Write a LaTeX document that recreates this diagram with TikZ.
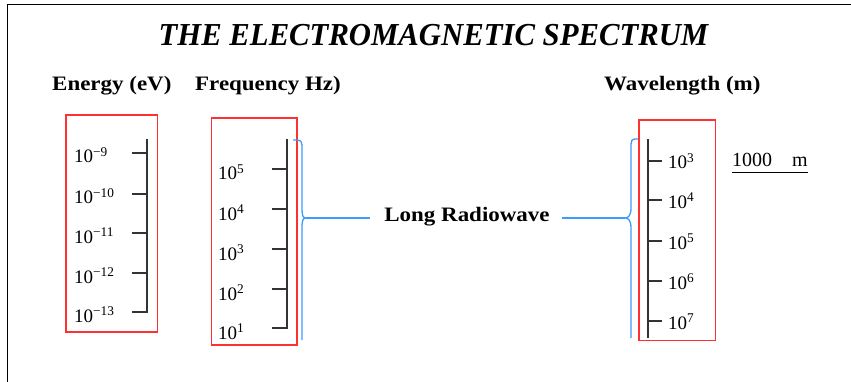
\documentclass[tikz,border=0pt]{standalone}
\usepackage{fontspec}
\setmainfont{Liberation Serif}
\newfontfamily\headfont[FakeStretch=1.12]{Liberation Serif}
\newfontfamily\titlefont[FakeStretch=0.96]{Liberation Serif}
\usepackage{tikz}
\usetikzlibrary{positioning}
\definecolor{boxred}{HTML}{FF3030}
\definecolor{wave}{HTML}{3C9BFF}
\definecolor{axis}{HTML}{333333}
\newcommand{\pts}[1]{\fontsize{#1}{#1}\selectfont}

\begin{document}
\begin{tikzpicture}[x=1pt, y=-1pt, font=\pts{19},
    redbox/.style={draw=boxred, line width=1.3pt},
    scaleline/.style={draw=axis, line width=1.4pt},
    waveline/.style={draw=wave, line width=1.3pt},
    ticklabel/.style={anchor=base west, inner sep=0pt},
    head/.style={anchor=base west, inner sep=0pt, font=\headfont\pts{20.5}\bfseries}]
    \useasboundingbox (0,0) rectangle (851,382);
    \draw[line width=1.5pt] (7.5,382) -- (7.5,4.5) -- (851,4.5);

    \node[font=\titlefont\pts{32}\bfseries\itshape] (title) at (433.5,35) {THE ELECTROMAGNETIC SPECTRUM};
    \node[head] (energy) at (52,91) {Energy (eV)};
    \node[head] (freq) at (195,91) {Frequency Hz)};
    \node[head] (wavelen) at (604,91) {Wavelength (m)};

    % energy scale
    \draw[redbox] (66,115) rectangle (157.5,332);
    \draw[scaleline] (147,139) -- (147,313);
    \foreach \y/\e [count=\i] in {153/9,194/10,233/11,273/12,312/13} {
        \draw[scaleline] (132,\y) -- (147,\y);
        \node[ticklabel] (en\i) at (74,\y+10) {10\textsuperscript{−\e}};
    }

    % frequency scale
    \draw[redbox] (211.5,118) rectangle (297,345);
    \draw[scaleline] (287,139) -- (287,329);
    \foreach \y/\e [count=\i] in {169/5,209/4,249/3,289/2,328/1} {
        \draw[scaleline] (272,\y) -- (287,\y);
        \node[ticklabel] (fr\i) at (218,\y+11) {10\textsuperscript{\e}};
    }

    % wavelength scale
    \draw[redbox] (639,120) rectangle (715.5,340.5);
    \draw[scaleline] (648,139) -- (648,338);
    \foreach \y/\e [count=\i] in {161/3,200/4,241/5,281/6,321/7} {
        \draw[scaleline] (648,\y) -- (662,\y);
        \node[ticklabel] (wl\i) at (668,\y+8) {10\textsuperscript{\e}};
    }

    \node[ticklabel, font=\pts{20}] (thousand) at (732,167) {1000\hspace{20pt}m};
    \draw[line width=1pt] ([yshift=-5.5pt]thousand.base west) -- ([yshift=-5.5pt]thousand.base east);

    % braces and the band name
    \coordinate (ltip) at (306,218);
    \coordinate (rtip) at (625,218);
    \draw[waveline] (293,140) .. controls (302,140) .. (302,150) -- (302,208)
        .. controls (302,216) and (303,218) .. (ltip)
        .. controls (303,218) and (302,220) .. (302,228) -- (302,340);
    \draw[waveline] (638,139) .. controls (631,139) .. (631,150) -- (631,208)
        .. controls (631,216) and (628,218) .. (rtip)
        .. controls (628,218) and (631,220) .. (631,228) -- (631,338);
    \node[anchor=base, inner xsep=12pt, font=\headfont\pts{20.5}\bfseries] (band) at (467,222) {Long Radiowave};
    \draw[waveline, shorten >=2.5pt] (ltip) -- (ltip -| band.west);
    \draw[waveline] (band.east |- rtip) -- (rtip);
\end{tikzpicture}
\end{document}
